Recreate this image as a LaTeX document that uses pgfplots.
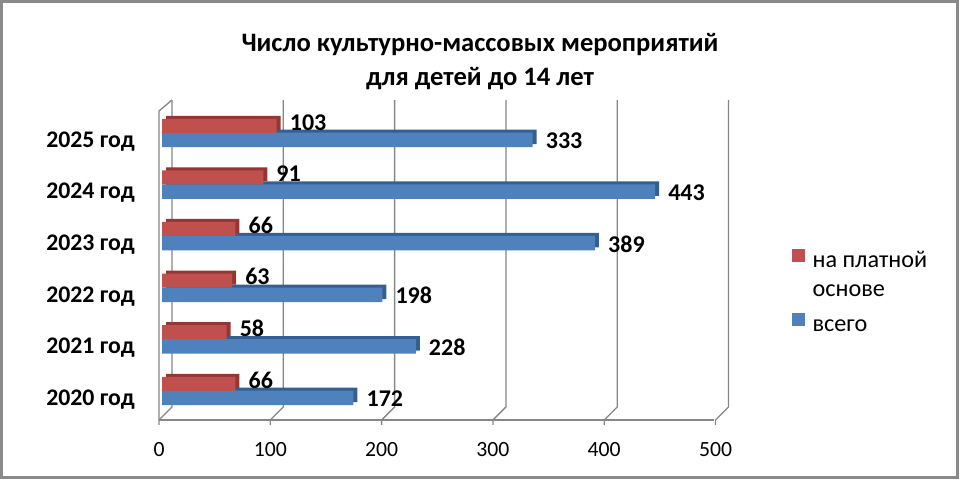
\documentclass[border=0pt]{standalone}
\usepackage{fontspec}
\setmainfont{Carlito}
\usepackage{pgfplots}
\usepackage{pgfplotstable}
\pgfplotsset{compat=1.18}
\definecolor{redf}{HTML}{C0504D}
\definecolor{redd}{HTML}{943634}
\definecolor{bluef}{HTML}{4F81BD}
\definecolor{blued}{HTML}{365F91}
\definecolor{gridc}{HTML}{868686}
\definecolor{framec}{HTML}{8A8A8A}

\pgfplotstableread{
cat tot paid
0 172 66
1 228 58
2 198 63
3 389 66
4 443 91
5 333 103
}\data

\begin{document}
\begin{tikzpicture}[x=1bp,y=1bp]
\useasboundingbox (0,0) rectangle (960,480);
\draw[framec, line width=2.5bp] (1.5,2.5) rectangle (957.5,478.5);
\node[font=\fontsize{26.6bp}{30bp}\selectfont\bfseries, anchor=base] at (480,428) {Число культурно-массовых мероприятий};
\node[font=\fontsize{26.6bp}{30bp}\selectfont\bfseries, anchor=base] at (480,394) {для детей до 14 лет};
\begin{axis}[
  at={(162bp,56.2bp)}, anchor=south west,
  scale only axis, width=556.5bp, height=309.6bp,
  xmin=0, xmax=500, ymin=-0.5, ymax=5.5,
  clip=false,
  axis line style={draw=none},
  major tick length=0pt,
  tick style={draw=none},
  xtick={0,100,...,500},
  ytick={0,...,5},
  yticklabels={2020 год,2021 год,2022 год,2023 год,2024 год,2025 год},
  /pgf/number format/assume math mode=true,
  x tick label style={font=\fontsize{21.7bp}{26bp}\selectfont, anchor=center, inner sep=0pt, xshift=-3bp, yshift=-26.2bp},
  y tick label style={font=\fontsize{23.8bp}{28bp}\selectfont\bfseries, anchor=base east, inner sep=0pt, xshift=-27bp, yshift=-7.3bp},
  legend style={draw=none, fill=none, at={(axis description cs:1.132,0.5646)}, anchor=north west,
    inner sep=0pt, font=\fontsize{24.2bp}{29bp}\selectfont, row sep=17bp, column sep=8bp,
    nodes={inner sep=0pt, text height=12bp, text depth=0bp}},
  legend cell align=left,
]
% 3D frame
\draw[gridc, line width=1.3bp] (axis cs:-2.7,-0.426) -- (axis cs:496.3,-0.426);
\draw[gridc, line width=1.3bp] (axis cs:-2.7,-0.426) -- (axis cs:-2.7,5.562) -- (axis cs:9,5.775);
\foreach \v in {0,100,...,500}{
  \edef\tmp{\noexpand\draw[gridc, line width=1.3bp] ([yshift=-5bp]axis cs:\v-2.7,-0.426) -- (axis cs:\v-2.7,-0.426) -- (axis cs:\v+9,-0.174) -- (axis cs:\v+9,5.775);}
  \tmp
}
\addplot[xbar, bar width=14.5bp, bar shift=0bp, fill=blued, draw=none, forget plot, xshift=4bp, yshift=3bp]
  table[x=tot, y=cat]{\data};
\addplot[xbar, bar width=14.5bp, bar shift=0bp, fill=bluef, draw=none, forget plot,
  nodes near coords, nodes near coords style={font=\fontsize{24bp}{28bp}\selectfont\bfseries, anchor=base west, inner sep=0pt, xshift=13bp, yshift=-9bp, text=black}]
  table[x=tot, y=cat]{\data};
\addplot[xbar, bar width=14bp, bar shift=14.2bp, fill=redd, draw=none, forget plot, xshift=4bp, yshift=3bp]
  table[x=paid, y=cat]{\data};
\addplot[xbar, bar width=14bp, bar shift=14.2bp, fill=redf, draw=none, forget plot,
  nodes near coords, nodes near coords style={font=\fontsize{24bp}{28bp}\selectfont\bfseries, anchor=base west, inner sep=0pt, xshift=13bp, yshift=9.9bp, text=black}]
  table[x=paid, y=cat]{\data};
\addlegendimage{legend image code/.code={\fill[redf] (0bp,0bp) rectangle (12bp,12bp);}}
\addlegendentry{на платной}
\addlegendimage{legend image code/.code={}}
\addlegendentry{основе}
\addlegendimage{legend image code/.code={\fill[bluef] (0bp,0bp) rectangle (12bp,12bp);}}
\addlegendentry{\rule{0pt}{23bp}всего}
\end{axis}
\end{tikzpicture}
\end{document}
